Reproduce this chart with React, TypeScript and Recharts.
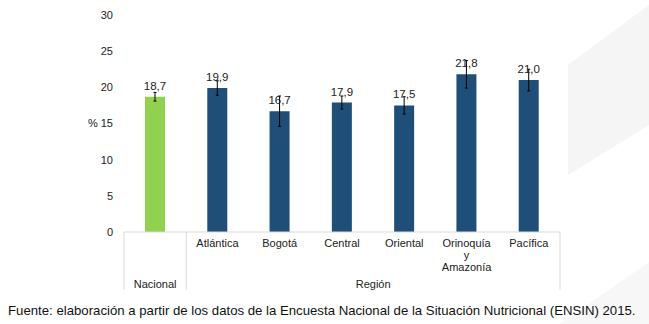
import { BarChart, Bar, XAxis, YAxis, ErrorBar, LabelList, Cell } from 'recharts'

const categories = ['Nacional', 'Atlántica', 'Bogotá', 'Central', 'Oriental', 'Orinoquía y Amazonía', 'Pacífica']
const values = [18.7, 19.9, 16.7, 17.9, 17.5, 21.8, 21.0]
const errors = [0.6, 1.0, 2.1, 0.9, 1.2, 1.9, 1.5]
const groups = ['Nacional', 'Región']
const yTicks = [0, 5, 10, 15, 20, 25, 30]

const data = categories.map((c, i) => ({ name: c, value: values[i], err: errors[i] }))

const W = 649
const H = 300
const M = { top: 15, right: 89, left: 0, bottom: 8 }
const Y_W = 124
const X_H = 60
const band = (W - M.right - M.left - Y_W) / categories.length
const font = '"Liberation Sans", Arial, sans-serif'
const grey = '#d9d9d9'

const CatTick = (props: any) => {
  const { x, y, payload, index } = props
  const words = payload.value === 'Orinoquía y Amazonía' ? ['Orinoquía', 'y', 'Amazonía'] : [payload.value]
  const top = y - 8 // axis line y
  const lineBottom = top + 58
  return (
    <g>
      {index === 0 && (
        <>
          <line x1={x - band / 2} x2={x - band / 2} y1={top} y2={lineBottom} stroke={grey} />
          <line x1={x + band / 2} x2={x + band / 2} y1={top} y2={lineBottom} stroke={grey} />
          <text x={x} y={top + 56} textAnchor='middle' fontSize={11} fill='#222' fontFamily={font}>{groups[0]}</text>
        </>
      )}
      {index === 1 && (
        <text x={x + band * 2.5} y={top + 56} textAnchor='middle' fontSize={11} fill='#222' fontFamily={font}>{groups[1]}</text>
      )}
      {index === categories.length - 1 && (
        <line x1={x + band / 2} x2={x + band / 2} y1={top} y2={lineBottom} stroke={grey} />
      )}
      {index > 0 &&
        words.map((w, k) => (
          <text key={k} x={x} y={top + 15 + k * 12} textAnchor='middle' fontSize={11} fill='#222' fontFamily={font}>{w}</text>
        ))}
    </g>
  )
}

export default function App() {
  return (
    <div style={{ position: 'absolute', left: 0, top: 0, width: 649, height: 324, background: '#fff', fontFamily: font }}>
      {/* faint watermark shapes from the slide background */}
      <svg width={649} height={324} style={{ position: 'absolute', left: 0, top: 0 }}>
        <polygon points='568,65 649,5 649,125 568,175' fill='#f5f5f5' />
        <polygon points='560,324 649,262 649,324' fill='#f7f7f7' />
      </svg>
      <div style={{ position: 'absolute', left: 0, top: 0 }}>
        <BarChart width={W} height={H} data={data} margin={M} barCategoryGap={0}>
          <XAxis
            dataKey='name'
            height={X_H}
            tickLine={false}
            axisLine={{ stroke: grey }}
            interval={0}
            tick={<CatTick />}
          />
          <YAxis
            width={Y_W}
            domain={[0, 30]}
            ticks={yTicks}
            axisLine={false}
            tickLine={false}
            tickMargin={5}
            tick={{ fontSize: 11, fill: '#222', fontFamily: font }}
            label={{ value: '%', position: 'insideLeft', offset: 88, fontSize: 11, fill: '#222', fontFamily: font }}
          />
          <Bar dataKey='value' barSize={20} isAnimationActive={false}>
            {data.map((d, i) => (
              <Cell key={d.name} fill={i === 0 ? '#92D050' : '#1F4E79'} />
            ))}
            <ErrorBar dataKey='err' width={1.5} stroke='#000' strokeWidth={1} />
            <LabelList
              dataKey='value'
              position='top'
              offset={7}
              formatter={(v: any) => Number(v).toFixed(1).replace('.', ',')}
              style={{ fontSize: 11.5, fill: '#222', fontFamily: font }}
            />
          </Bar>
        </BarChart>
      </div>
      <div style={{ position: 'absolute', left: 8, top: 303, fontSize: 13.2, color: '#111', whiteSpace: 'nowrap' }}>
        Fuente: elaboración a partir de los datos de la Encuesta Nacional de la Situación Nutricional (ENSIN) 2015.
      </div>
    </div>
  )
}
